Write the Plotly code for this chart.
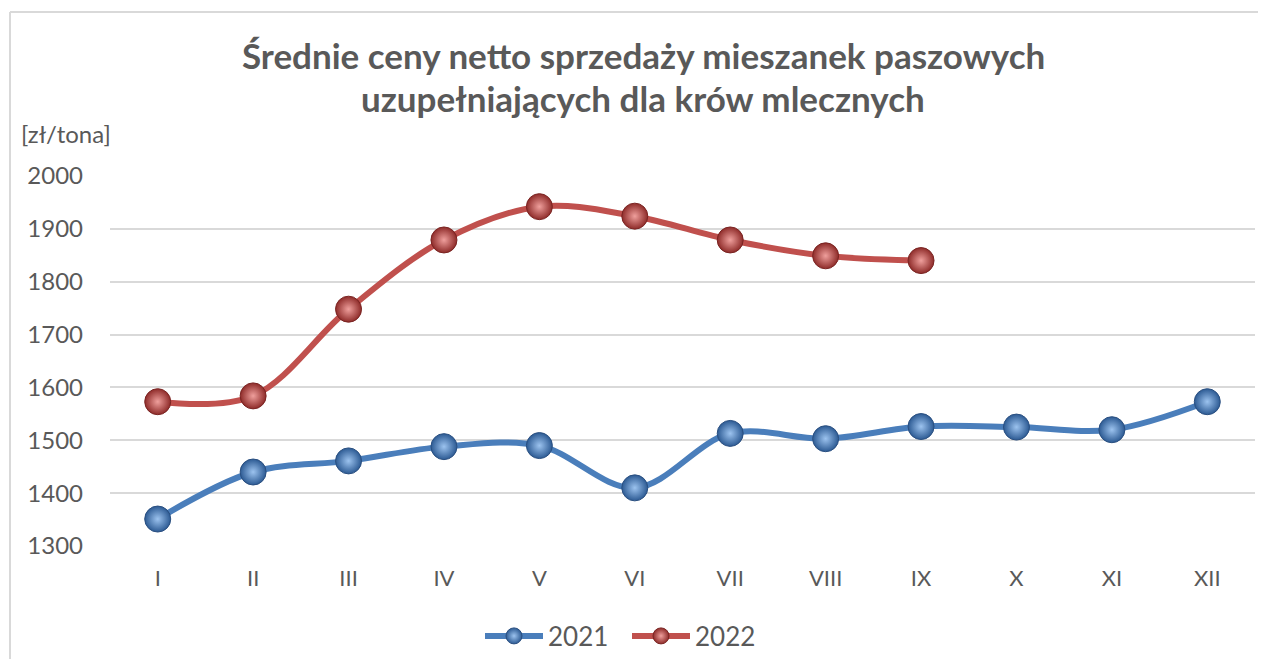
import plotly.graph_objects as go

months = ["I", "II", "III", "IV", "V", "VI", "VII", "VIII", "IX", "X", "XI", "XII"]
values_2021 = [1351, 1440, 1461, 1488, 1490, 1410, 1513, 1503, 1526, 1525, 1520, 1573]
values_2022 = [1573, 1584, 1748, 1879, 1942, 1924, 1879, 1849, 1840]
y_ticks = [1300, 1400, 1500, 1600, 1700, 1800, 1900, 2000]

title_line1 = "Średnie ceny netto sprzedaży mieszanek paszowych"
title_line2 = "uzupełniających dla krów mlecznych"
unit_label = "[zł/tona]"

# page body adds an 8px offset; coordinates below are screen pixels
OFF = 8
W, H = 1266, 659
L, R, T, B = 102, 19, 168, 121
pw, ph = W - L - R, H - T - B

def px_x(p):
    return (p - OFF - L) / pw

def px_y(p):
    return (H - B - (p - OFF)) / ph

def cx(p):
    return (p - OFF) / W

def cy(p):
    return (H - (p - OFF)) / H

FONT = "Lato"
GREY = "#595959"

fig = go.Figure()

fig.add_trace(go.Scatter(
    x=months, y=values_2021, name="2021", mode="lines+markers",
    line=dict(color="#4a7ebb", width=6, shape="spline", smoothing=1.0),
    marker=dict(size=26, color="#2c5a93",
                gradient=dict(type="radial", color="#9cc3ef"),
                line=dict(color="#2a4f80", width=1)),
    cliponaxis=False,
))
fig.add_trace(go.Scatter(
    x=months[:len(values_2022)], y=values_2022, name="2022", mode="lines+markers",
    line=dict(color="#c0504d", width=6, shape="spline", smoothing=1.0),
    marker=dict(size=26, color="#8e2b29",
                gradient=dict(type="radial", color="#ef9f9c"),
                line=dict(color="#7a2422", width=1)),
    cliponaxis=False,
))

fig.update_layout(
    width=W, height=H,
    margin=dict(l=L, r=R, t=T, b=B, autoexpand=False),
    paper_bgcolor="white", plot_bgcolor="white",
    font=dict(family=FONT, color=GREY, size=24),
    showlegend=True,
    legend=dict(orientation="h", xref="container", x=cx(480), xanchor="left",
                yref="container", y=cy(636), yanchor="middle",
                font=dict(size=26, color=GREY, family=FONT),
                itemwidth=58, entrywidth=74, bgcolor="rgba(0,0,0,0)"),
    xaxis=dict(type="category", categoryarray=months, range=[-0.5, 11.5],
               showgrid=False, showline=False, zeroline=False, ticks="",
               tickfont=dict(size=22, color=GREY, family=FONT),
               ticklabelstandoff=17),
    yaxis=dict(range=[1300, 2000], tickvals=y_ticks, showgrid=True,
               gridcolor="#d9d9d9", gridwidth=2, showline=False, zeroline=False,
               ticks="", tickfont=dict(size=24, color=GREY, family=FONT),
               ticklabelstandoff=26),
    annotations=[
        dict(text="<b>" + title_line1 + "</b>", xref="paper", yref="paper",
             x=px_x(643), y=px_y(55), xanchor="center", yanchor="middle",
             showarrow=False, font=dict(size=35, color=GREY, family=FONT)),
        dict(text="<b>" + title_line2 + "</b>", xref="paper", yref="paper",
             x=px_x(643), y=px_y(98), xanchor="center", yanchor="middle",
             showarrow=False, font=dict(size=35, color=GREY, family=FONT)),
        dict(text=unit_label, xref="paper", yref="paper",
             x=px_x(19), y=px_y(133), xanchor="left", yanchor="middle",
             showarrow=False, font=dict(size=24, color=GREY, family=FONT)),
    ],
    shapes=[
        dict(type="line", xref="paper", yref="paper",
             x0=px_x(10), x1=px_x(1280), y0=px_y(12), y1=px_y(12),
             line=dict(color="#d9d9d9", width=2)),
        dict(type="line", xref="paper", yref="paper",
             x0=px_x(10), x1=px_x(10), y0=px_y(12), y1=px_y(680),
             line=dict(color="#d9d9d9", width=2)),
    ],
)

fig.write_html("out.html")
